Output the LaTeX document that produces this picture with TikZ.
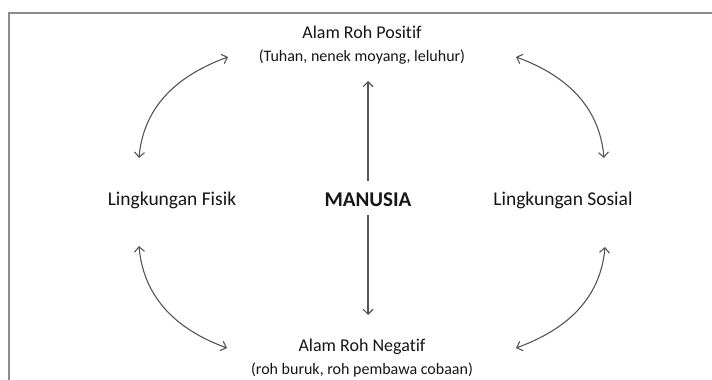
\documentclass[tikz,border=0pt]{standalone}
\usepackage{fontspec}
\setmainfont{Carlito}[Ligatures=NoCommon]
\usetikzlibrary{arrows.meta}
\definecolor{arrgray}{HTML}{555555}
\definecolor{framegray}{HTML}{8C8C8C}
\definecolor{txt}{HTML}{161616}
\begin{document}
\begin{tikzpicture}[x=1pt,y=1pt,
  lbl/.style={inner sep=0pt, text=txt, font=\fontsize{19.5}{22}\selectfont},
  ttl/.style={inner sep=0pt, text=txt, font=\fontsize{18}{21}\selectfont},
  sub/.style={inner sep=0pt, text=txt, font=\fontsize{16}{19}\selectfont},
  cen/.style={inner sep=0pt, text=txt, font=\bfseries\fontsize{21}{24}\selectfont},
  arr/.style={draw=arrgray, line width=1.1pt, {Straight Barb[length=5pt,width=10pt]}-{Straight Barb[length=5pt,width=10pt]}},
  arrone/.style={draw=arrgray, line width=1.1pt, -{Straight Barb[length=5pt,width=10pt]}}]
\useasboundingbox (0,0) rectangle (712,380);
\fill[white] (0,0) rectangle (712,380);
\draw[framegray, line width=1.8pt] (9,0) -- (9,367) -- (712,367);

\node[ttl] (pos) at (362,348) {Alam Roh Positif};
\node[sub] (possub) at (362,323) {(Tuhan, nenek moyang, leluhur)};
\node[ttl] (neg) at (362,33) {Alam Roh Negatif};
\node[sub] (negsub) at (362,10) {(roh buruk, roh pembawa cobaan)};
\node[lbl] (fisik) at (172,180) {Lingkungan Fisik};
\node[lbl] (sosial) at (563,180) {Lingkungan Sosial};
\node[cen] (man) at (368,180) {MANUSIA};

\coordinate (vtop) at (368,299);
\coordinate (vbot) at (368,65);
\coordinate (mantop) at (368,199);
\coordinate (manbot) at (368,165);
\draw[arrone] (mantop) -- (vtop);
\draw[arrone] (manbot) -- (vbot);

\coordinate (ulA) at (139,222);
\coordinate (ulB) at (228,323);
\coordinate (urA) at (604,222);
\coordinate (urB) at (516,323);
\coordinate (llA) at (139,134);
\coordinate (llB) at (227,32);
\coordinate (lrA) at (605,133);
\coordinate (lrB) at (516,32);
\draw[arr] (ulA) to[out=85,in=200] (ulB);
\draw[arr] (urA) to[out=95,in=-20] (urB);
\draw[arr] (llA) to[out=-85,in=160] (llB);
\draw[arr] (lrA) to[out=-95,in=20] (lrB);
\end{tikzpicture}
\end{document}
